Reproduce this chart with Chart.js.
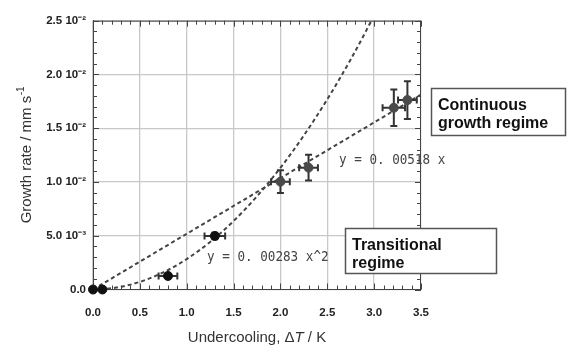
<!DOCTYPE html>
<html><head><meta charset="utf-8">
<script src="https://cdn.jsdelivr.net/npm/chart.js@4.4.0/dist/chart.umd.min.js"></script>
<style>html,body{margin:0;padding:0;background:#fff;overflow:hidden}#wrap{width:568px;height:345px;position:relative}</style>
</head><body><div id="wrap"><canvas id="c" width="568" height="345"></canvas></div>
<script>
// ---- data ----
const undercooling    = [0, 0.1, 0.8, 1.3, 2.0, 2.3, 3.21, 3.355];
const growthRate      = [0, 0, 0.00126, 0.00498, 0.01003, 0.01133, 0.0169, 0.01762];
const undercoolingErr = [0, 0, 0.1, 0.11, 0.1, 0.1, 0.12, 0.1];
const growthRateErr   = [0, 0, 0.0002, 0.0003, 0.00105, 0.0012, 0.0017, 0.00176];
const linearFitX = [0, 3.5];
const linearFitY = [0, 0.01813];
const quadFitX = [0, 0.25, 0.5, 0.75, 1.0, 1.25, 1.5, 1.75, 2.0, 2.25, 2.5, 2.75, 3.0];
const quadFitY = [0, 0.000177, 0.000708, 0.00159, 0.00283, 0.00442, 0.00637, 0.00867, 0.01132, 0.01433, 0.01769, 0.0214, 0.02547];
const xTickLabels = ['0.0','0.5','1.0','1.5','2.0','2.5','3.0','3.5'];
const yTickLabels = ['0.0','5.0 10\u207B\u00B3','1.0 10\u207B\u00B2','1.5 10\u207B\u00B2','2.0 10\u207B\u00B2','2.5 10\u207B\u00B2'];
const linearLabel = 'y = 0. 00518 x';
const quadLabel   = 'y = 0. 00283 x^2';
const boxContinuous   = ['Continuous', 'growth regime'];
const boxTransitional = ['Transitional', 'regime'];

const toXY = (xs, ys) => xs.map((v, i) => ({x: v, y: ys[i]}));

const deco = {
  id: 'deco',
  beforeDatasetsDraw(chart) {
    const {ctx, chartArea: a, scales: {x, y}} = chart;
    ctx.save();
    ctx.strokeStyle = '#444'; ctx.lineWidth = 1;
    ctx.beginPath();
    ctx.moveTo(a.left, a.top + 0.5); ctx.lineTo(a.right, a.top + 0.5);
    ctx.moveTo(a.right - 0.5, a.top); ctx.lineTo(a.right - 0.5, a.bottom);
    ctx.stroke();
    ctx.beginPath();
    for (let k = 0; k <= 35; k++) {
      const v = k / 10, px = Math.round(x.getPixelForValue(v)) + 0.5;
      const L = (k % 5 === 0) ? 6 : 4;
      ctx.moveTo(px, a.bottom); ctx.lineTo(px, a.bottom - L);
      ctx.moveTo(px, a.top); ctx.lineTo(px, a.top + L);
    }
    for (let k = 0; k <= 25; k++) {
      const v = k / 1000, py = Math.round(y.getPixelForValue(v)) + 0.5;
      const L = (k % 5 === 0) ? 6 : 4;
      ctx.moveTo(a.left, py); ctx.lineTo(a.left + L, py);
      ctx.moveTo(a.right, py); ctx.lineTo(a.right - L, py);
    }
    ctx.stroke();
    ctx.restore();
  },
  beforeDatasetDraw(chart, args) {
    if (args.index !== 0) return;
    const {ctx, scales: {x, y}} = chart;
    ctx.save();
    ctx.strokeStyle = '#333'; ctx.lineWidth = 2;
    ctx.beginPath();
    undercooling.forEach((xv, i) => {
      const yv = growthRate[i];
      const px = x.getPixelForValue(xv), py = y.getPixelForValue(yv);
      const ey = growthRateErr[i], ex = undercoolingErr[i];
      if (ey > 0) {
        const y1 = y.getPixelForValue(yv + ey), y2 = y.getPixelForValue(yv - ey);
        ctx.moveTo(px, y1); ctx.lineTo(px, y2);
        ctx.moveTo(px - 3.5, y1); ctx.lineTo(px + 3.5, y1);
        ctx.moveTo(px - 3.5, y2); ctx.lineTo(px + 3.5, y2);
      }
      if (ex > 0) {
        const x1 = x.getPixelForValue(xv - ex), x2 = x.getPixelForValue(xv + ex);
        ctx.moveTo(x1, py); ctx.lineTo(x2, py);
        ctx.moveTo(x1, py - 3.5); ctx.lineTo(x1, py + 3.5);
        ctx.moveTo(x2, py - 3.5); ctx.lineTo(x2, py + 3.5);
      }
    });
    ctx.stroke();
    ctx.restore();
  },
  afterDraw(chart) {
    const {ctx, scales: {x, y}} = chart;
    ctx.save();
    ctx.fillStyle = '#444';
    ctx.font = '14.5px "DejaVu Sans Mono", monospace';
    ctx.textBaseline = 'middle';
    const eq = (txt, xv, yv) => {
      ctx.save();
      ctx.translate(x.getPixelForValue(xv), y.getPixelForValue(yv));
      ctx.scale(0.87, 1);
      ctx.fillText(txt, 0, 0);
      ctx.restore();
    };
    eq(linearLabel, 2.625, 0.01205);
    eq(quadLabel, 1.217, 0.00302);
    const box = (lines, bx, by, bw, bh) => {
      ctx.fillStyle = '#fff';
      ctx.fillRect(bx, by, bw, bh);
      ctx.strokeStyle = '#555'; ctx.lineWidth = 1.5;
      ctx.strokeRect(bx + 0.5, by + 0.5, bw - 1, bh - 1);
      ctx.fillStyle = '#111';
      ctx.font = 'bold 16px "Liberation Sans", Arial, sans-serif';
      ctx.textBaseline = 'alphabetic';
      ctx.textAlign = 'left';
      lines.forEach((t, i) => ctx.fillText(t, bx + 7, by + 22 + i * 18));
    };
    box(boxContinuous, 431, 88, 135, 48);
    box(boxTransitional, 345, 228, 152, 46);
    ctx.fillStyle = '#333';
    const f = '15px "Liberation Sans", Arial, sans-serif';
    const fi = 'italic 15px "Liberation Sans", Arial, sans-serif';
    ctx.textBaseline = 'alphabetic'; ctx.textAlign = 'left';
    const parts = [['Undercooling, \u0394', f], ['T', fi], [' / K', f]];
    let tw = 0;
    parts.forEach(p => { ctx.font = p[1]; tw += ctx.measureText(p[0]).width; });
    let cx = (x.left + x.right) / 2 - tw / 2;
    parts.forEach(p => { ctx.font = p[1]; ctx.fillText(p[0], cx, 342); cx += ctx.measureText(p[0]).width; });
    ctx.save();
    ctx.translate(25, (y.top + y.bottom) / 2);
    ctx.rotate(-Math.PI / 2);
    ctx.font = f;
    const m1 = 'Growth rate / mm s';
    const w1 = ctx.measureText(m1).width;
    ctx.font = '10px "Liberation Sans", Arial, sans-serif';
    const w2 = ctx.measureText('-1').width;
    const sx = -(w1 + w2) / 2;
    ctx.font = f;
    ctx.fillText(m1, sx, 5.5);
    ctx.font = '10px "Liberation Sans", Arial, sans-serif';
    ctx.fillText('-1', sx + w1 + 0.5, -1);
    ctx.restore();
    ctx.restore();
  }
};

const tickFont = {family: '"Liberation Sans", Arial, sans-serif', size: 11.5, weight: 'bold'};

new Chart(document.getElementById('c'), {
  type: 'scatter',
  data: {
    datasets: [
      {
        label: 'measured',
        data: toXY(undercooling, growthRate),
        pointRadius: 4.5,
        pointBackgroundColor: c => c.dataIndex < 4 ? '#111' : '#4a4a4a',
        pointBorderColor: c => c.dataIndex < 4 ? '#111' : '#4a4a4a',
        pointBorderWidth: 1,
        showLine: false,
        clip: false
      },
      {
        label: 'linear fit',
        data: toXY(linearFitX, linearFitY),
        showLine: true, pointRadius: 0,
        borderColor: '#444', borderWidth: 2, borderDash: [4, 3]
      },
      {
        label: 'quadratic fit',
        data: toXY(quadFitX, quadFitY),
        showLine: true, pointRadius: 0,
        borderColor: '#444', borderWidth: 2, borderDash: [4, 3],
        cubicInterpolationMode: 'monotone'
      }
    ]
  },
  options: {
    responsive: false, animation: false, devicePixelRatio: 1,
    layout: {padding: {left: 0, right: 147, top: 20.7, bottom: 0}},
    plugins: {legend: {display: false}, tooltip: {enabled: false}},
    scales: {
      x: {
        type: 'linear', min: 0, max: 3.5,
        afterFit: s => { s.height = 55.5; },
        grid: {color: '#c8c8c8', lineWidth: 1.3, drawTicks: false},
        border: {color: '#444', width: 1},
        ticks: {stepSize: 0.5, padding: 16, color: '#222', font: tickFont, maxRotation: 0,
          callback: (v, i) => xTickLabels[i]}
      },
      y: {
        type: 'linear', min: 0, max: 0.025,
        afterFit: s => { s.width = 93; },
        grid: {color: '#c8c8c8', lineWidth: 1.3, drawTicks: false},
        border: {color: '#444', width: 1},
        ticks: {stepSize: 0.005, padding: 7, color: '#222', font: tickFont,
          callback: (v, i) => yTickLabels[i]}
      }
    }
  },
  plugins: [deco]
});
</script></body></html>
